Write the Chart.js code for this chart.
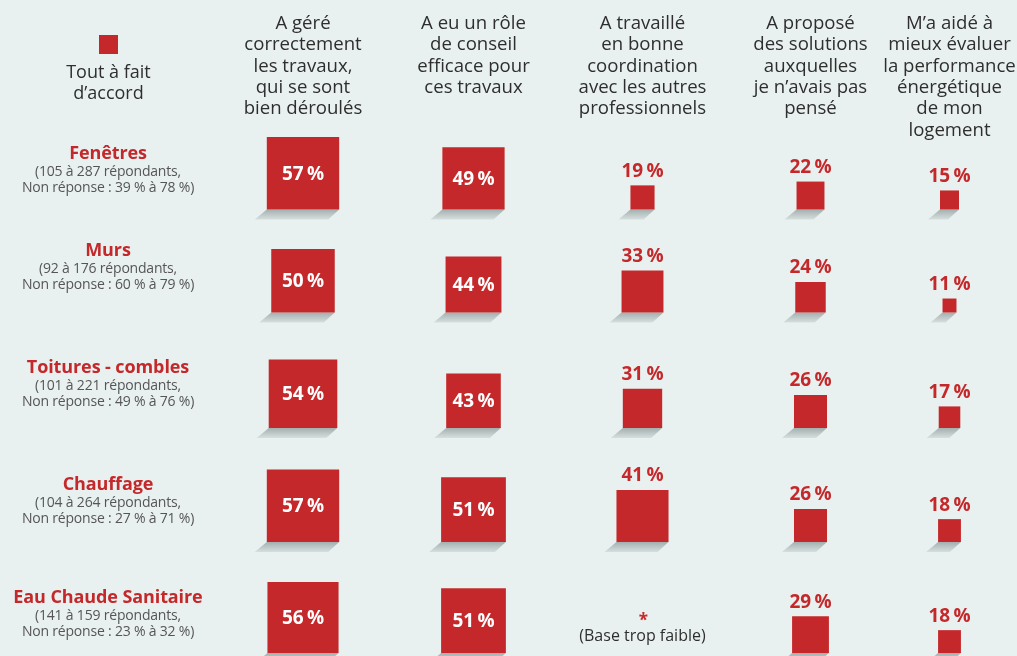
<!DOCTYPE html>
<html>
<head>
<meta charset="utf-8">
<script src="https://cdn.jsdelivr.net/npm/chart.js@4"></script>
<style>
  html, body { margin: 0; padding: 0; background: #e9f1f0; }
  #wrap { position: relative; width: 1017px; height: 656px; overflow: hidden; font-family: "Open Sans", sans-serif; }
  #wrap canvas { position: absolute; left: 0; top: 0; }
  .hd { position: absolute; width: 180px; text-align: center; font-size: 18.6px; line-height: 21.3px; color: #2e2e2e; }
  .rt { position: absolute; left: 0; width: 216px; text-align: center; font-size: 18px; font-weight: bold; color: #c4282a; letter-spacing: -0.1px; }
  .rs { position: absolute; left: 0; width: 216px; text-align: center; font-size: 14px; line-height: 15.5px; color: #555; letter-spacing: -0.2px; }
</style>
</head>
<body>
<div id="wrap">
  <canvas id="c" width="1017" height="656"></canvas>
</div>
<script>
// données
var rows = ['Fenêtres', 'Murs', 'Toitures - combles', 'Chauffage', 'Eau Chaude Sanitaire'];
var rowNotes = [
  ['(105 à 287 répondants,', 'Non réponse : 39 % à 78 %)'],
  ['(92 à 176 répondants,', 'Non réponse : 60 % à 79 %)'],
  ['(101 à 221 répondants,', 'Non réponse : 49 % à 76 %)'],
  ['(104 à 264 répondants,', 'Non réponse : 27 % à 71 %)'],
  ['(141 à 159 répondants,', 'Non réponse : 23 % à 32 %)']
];
var columns = [
  ['A géré', 'correctement', 'les travaux,', 'qui se sont', 'bien déroulés'],
  ['A eu un rôle', 'de conseil', 'efficace pour', 'ces travaux'],
  ['A travaillé', 'en bonne', 'coordination', 'avec les autres', 'professionnels'],
  ['A proposé', 'des solutions', 'auxquelles', 'je n’avais pas', 'pensé'],
  ['M’a aidé à', 'mieux évaluer', 'la performance', 'énergétique', 'de mon', 'logement']
];
var geres = [57, 50, 54, 57, 56];
var conseil = [49, 44, 43, 51, 51];
var coordination = [19, 33, 31, 41, null];
var solutions = [22, 24, 26, 26, 29];
var performance = [15, 11, 17, 18, 18];
var legendLabel = ['Tout à fait', 'd’accord'];

// mise en page
var colX = [303, 473.5, 642.5, 810.5, 949.5];
var rowBase = [209.5, 312.5, 428, 542, 653];
var rowTitleY = [153, 250, 367, 484, 597];
var unit = 1.27;  // côté du carré par point de %
var red = '#c4282a';

var series = [geres, conseil, coordination, solutions, performance];
var points = [];
series.forEach(function (s, c) {
  s.forEach(function (v, r) {
    if (v == null) return;
    points.push({ x: colX[c], y: rowBase[r] - v * unit / 2, v: v, base: rowBase[r] });
  });
});

var wrap = document.getElementById('wrap');
function addText(cls, txt, left, top, extra) {
  var d = document.createElement('div');
  d.className = cls;
  d.textContent = txt;
  d.style.left = left + 'px';
  d.style.top = top + 'px';
  if (extra) Object.assign(d.style, extra);
  wrap.appendChild(d);
}
columns.forEach(function (lines, c) {
  lines.forEach(function (t, i) {
    addText('hd', t, colX[c] - 90, 11 + i * 21.3);
  });
});
legendLabel.forEach(function (t, i) {
  addText('hd', t, 108.5 - 90, 61 + i * 21.3, { fontSize: '18px' });
});
rows.forEach(function (t, r) {
  addText('rt', t, 0, rowTitleY[r] - 13);
  addText('rs', rowNotes[r][0], 0, rowTitleY[r] + 10);
  addText('rs', rowNotes[r][1], 0, rowTitleY[r] + 25.5);
});
addText('hd', '*', colX[2] + 1 - 90, 609, { color: red, fontWeight: 'bold', fontSize: '17px' });
addText('hd', '(Base trop faible)', colX[2] - 90, 625, { fontSize: '16px' });

function sidePx(chart, v) {
  var y = chart.scales.y;
  return Math.abs(y.getPixelForValue(0) - y.getPixelForValue(v * unit));
}

var shadowPlugin = {
  id: 'shadows',
  beforeDatasetsDraw: function (chart) {
    var ctx = chart.ctx;
    var meta = chart.getDatasetMeta(0);
    meta.data.forEach(function (el, i) {
      var p = points[i];
      var s = sidePx(chart, p.v);
      var yb = chart.scales.y.getPixelForValue(p.base);
      var x0 = el.x - s / 2, x1 = el.x + s / 2;
      var g = ctx.createLinearGradient(0, yb, 0, yb + 10);
      g.addColorStop(0, '#a3afaf');
      g.addColorStop(1, '#d6dfde');
      ctx.save();
      ctx.fillStyle = g;
      ctx.beginPath();
      ctx.moveTo(x0, yb);
      ctx.lineTo(x1, yb);
      ctx.lineTo(x1 - 11, yb + 10);
      ctx.lineTo(x0 - 12, yb + 10);
      ctx.closePath();
      ctx.fill();
      ctx.restore();
    });
  },
  afterDatasetsDraw: function (chart) {
    var ctx = chart.ctx;
    var meta = chart.getDatasetMeta(0);
    ctx.save();
    ctx.font = 'bold 19px "Open Sans", sans-serif';
    ctx.textAlign = 'center';
    ctx.textBaseline = 'middle';
    meta.data.forEach(function (el, i) {
      var p = points[i];
      var s = sidePx(chart, p.v);
      var label = p.v + '\u2009%';
      if (p.v >= 42) {
        ctx.fillStyle = '#ffffff';
        ctx.fillText(label, el.x, el.y + 1);
      } else {
        ctx.fillStyle = red;
        ctx.fillText(label, el.x, el.y - s / 2 - 14);
      }
    });
    ctx.restore();
  }
};

var ctx = document.getElementById('c').getContext('2d');
new Chart(ctx, {
  type: 'scatter',
  data: {
    datasets: [{
      data: points,
      pointStyle: 'rect',
      backgroundColor: red,
      borderWidth: 0,
      pointRadius: function (c) {
        var p = c.raw;
        if (!p) return 0;
        return sidePx(c.chart, p.v) / Math.SQRT2;
      },
      pointHoverRadius: function (c) {
        var p = c.raw;
        if (!p) return 0;
        return sidePx(c.chart, p.v) / Math.SQRT2;
      }
    }, {
      // carré de légende
      data: [{ x: 108.5, y: 44.5 }],
      pointStyle: 'rect',
      backgroundColor: red,
      borderWidth: 0,
      pointRadius: 19 / Math.SQRT2
    }]
  },
  options: {
    responsive: false,
    animation: false,
    events: [],
    layout: { padding: 0, autoPadding: false },
    plugins: { legend: { display: false }, tooltip: { enabled: false } },
    scales: {
      x: { type: 'linear', min: 0, max: 1017, display: false },
      y: { type: 'linear', min: 0, max: 656, reverse: true, display: false }
    }
  },
  plugins: [shadowPlugin]
});
</script>
</body>
</html>
